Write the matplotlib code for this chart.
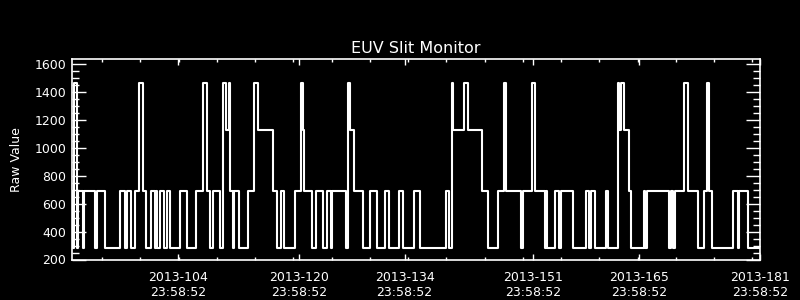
import matplotlib
matplotlib.use("Agg")
import matplotlib.pyplot as plt
import numpy as np

# Step series: start day-of-year of each segment and its raw value
seg_day = [90.00, 90.13, 90.33, 90.66, 90.79, 91.46, 91.59, 93.08, 93.27, 94.40,
           96.39, 96.97, 97.31, 97.84, 98.29, 98.90, 99.35, 99.75, 100.49, 101.02,
           101.15, 101.28, 101.64, 102.13, 102.57, 103.00, 104.33, 105.15, 106.36, 107.37,
           107.79, 108.21, 108.69, 109.54, 109.93, 110.33, 110.73, 110.86, 111.26, 111.47,
           112.13, 113.24, 114.11, 114.54, 116.52, 117.16, 117.58, 118.08, 119.56, 120.32,
           120.52, 120.65, 121.79, 122.24, 123.24, 123.69, 124.22, 124.43, 126.20, 126.47,
           126.81, 127.34, 128.53, 129.46, 130.30, 131.44, 131.97, 133.21, 133.82, 135.20,
           136.07, 139.43, 139.83, 140.30, 140.37, 141.81, 142.34, 144.19, 145.07, 146.39,
           147.10, 147.45, 149.35, 149.70, 150.81, 151.20, 152.53, 152.70, 152.83, 153.93,
           154.38, 154.72, 156.23, 157.99, 158.35, 158.69, 159.22, 160.63, 160.90, 162.18,
           162.39, 162.66, 163.06, 163.64, 163.98, 165.62, 165.79, 166.02, 169.01, 169.23,
           169.43, 169.80, 170.99, 171.44, 172.76, 173.64, 174.04, 174.22, 174.62, 177.48,
           178.06, 178.27, 179.46, 181.00]
seg_val = [690, 285, 1465, 285, 690, 285, 690, 285, 690, 285,
           690, 285, 690, 285, 690, 1465, 690, 285, 690, 285,
           690, 285, 690, 285, 690, 285, 690, 285, 690, 1465,
           690, 285, 690, 285, 1465, 1125, 1465, 690, 285, 690,
           285, 690, 1465, 1125, 690, 285, 690, 285, 690, 1465,
           1125, 690, 285, 690, 285, 690, 285, 690, 285, 1465,
           1125, 690, 285, 690, 285, 690, 285, 690, 285, 690,
           285, 690, 285, 1465, 1125, 1465, 1125, 690, 285, 690,
           1465, 690, 285, 690, 1465, 690, 285, 690, 285, 690,
           285, 690, 285, 690, 285, 690, 285, 690, 285, 1465,
           1125, 1465, 1125, 690, 285, 690, 285, 690, 285, 690,
           285, 690, 1465, 690, 285, 690, 1465, 690, 285, 690,
           285, 690, 285, 285]

major_days = [104, 120, 134, 151, 165, 181]
major_labels = ["2013-104\n23:58:52", "2013-120\n23:58:52", "2013-134\n23:58:52",
                "2013-151\n23:58:52", "2013-165\n23:58:52", "2013-181\n23:58:52"]
minor_days = list(np.linspace(94, 180, 18))
y_ticks = [200, 400, 600, 800, 1000, 1200, 1400, 1600]

fig = plt.figure(figsize=(8, 3), dpi=100, facecolor="black")
ax = fig.add_axes([72/800, 1 - 259.5/300, 688/800, 200.5/300], facecolor="black")

ax.plot(seg_day, seg_val, drawstyle="steps-post", color="white", lw=1.5)

ax.set_xlim(90, 181)
ax.set_ylim(200, 1636)

for s in ax.spines.values():
    s.set_color("white")
    s.set_linewidth(1.2)

ax.set_xticks(major_days)
ax.set_xticklabels(major_labels)
ax.set_xticks(minor_days, minor=True)
ax.set_yticks(y_ticks)
ax.set_yticks(np.arange(200, 1636, 50), minor=True)

ax.tick_params(axis="x", which="major", direction="in", length=4.3, width=1,
               colors="white", top=True, bottom=True, labelsize=9, pad=8)
ax.tick_params(axis="x", which="minor", direction="in", length=2.2, width=1,
               colors="white", top=True, bottom=True)
ax.tick_params(axis="y", which="major", direction="in", length=10, width=1,
               colors="white", left=True, right=True, labelsize=9, pad=4)
ax.tick_params(axis="y", which="minor", direction="in", length=5, width=1,
               colors="white", left=True, right=True)

ax.set_title("EUV Slit Monitor", color="white", fontsize=11.5, pad=4)
ax.set_ylabel("Raw Value", color="white", fontsize=9, labelpad=8)

fig.savefig("out.png", dpi=100, facecolor="black")
